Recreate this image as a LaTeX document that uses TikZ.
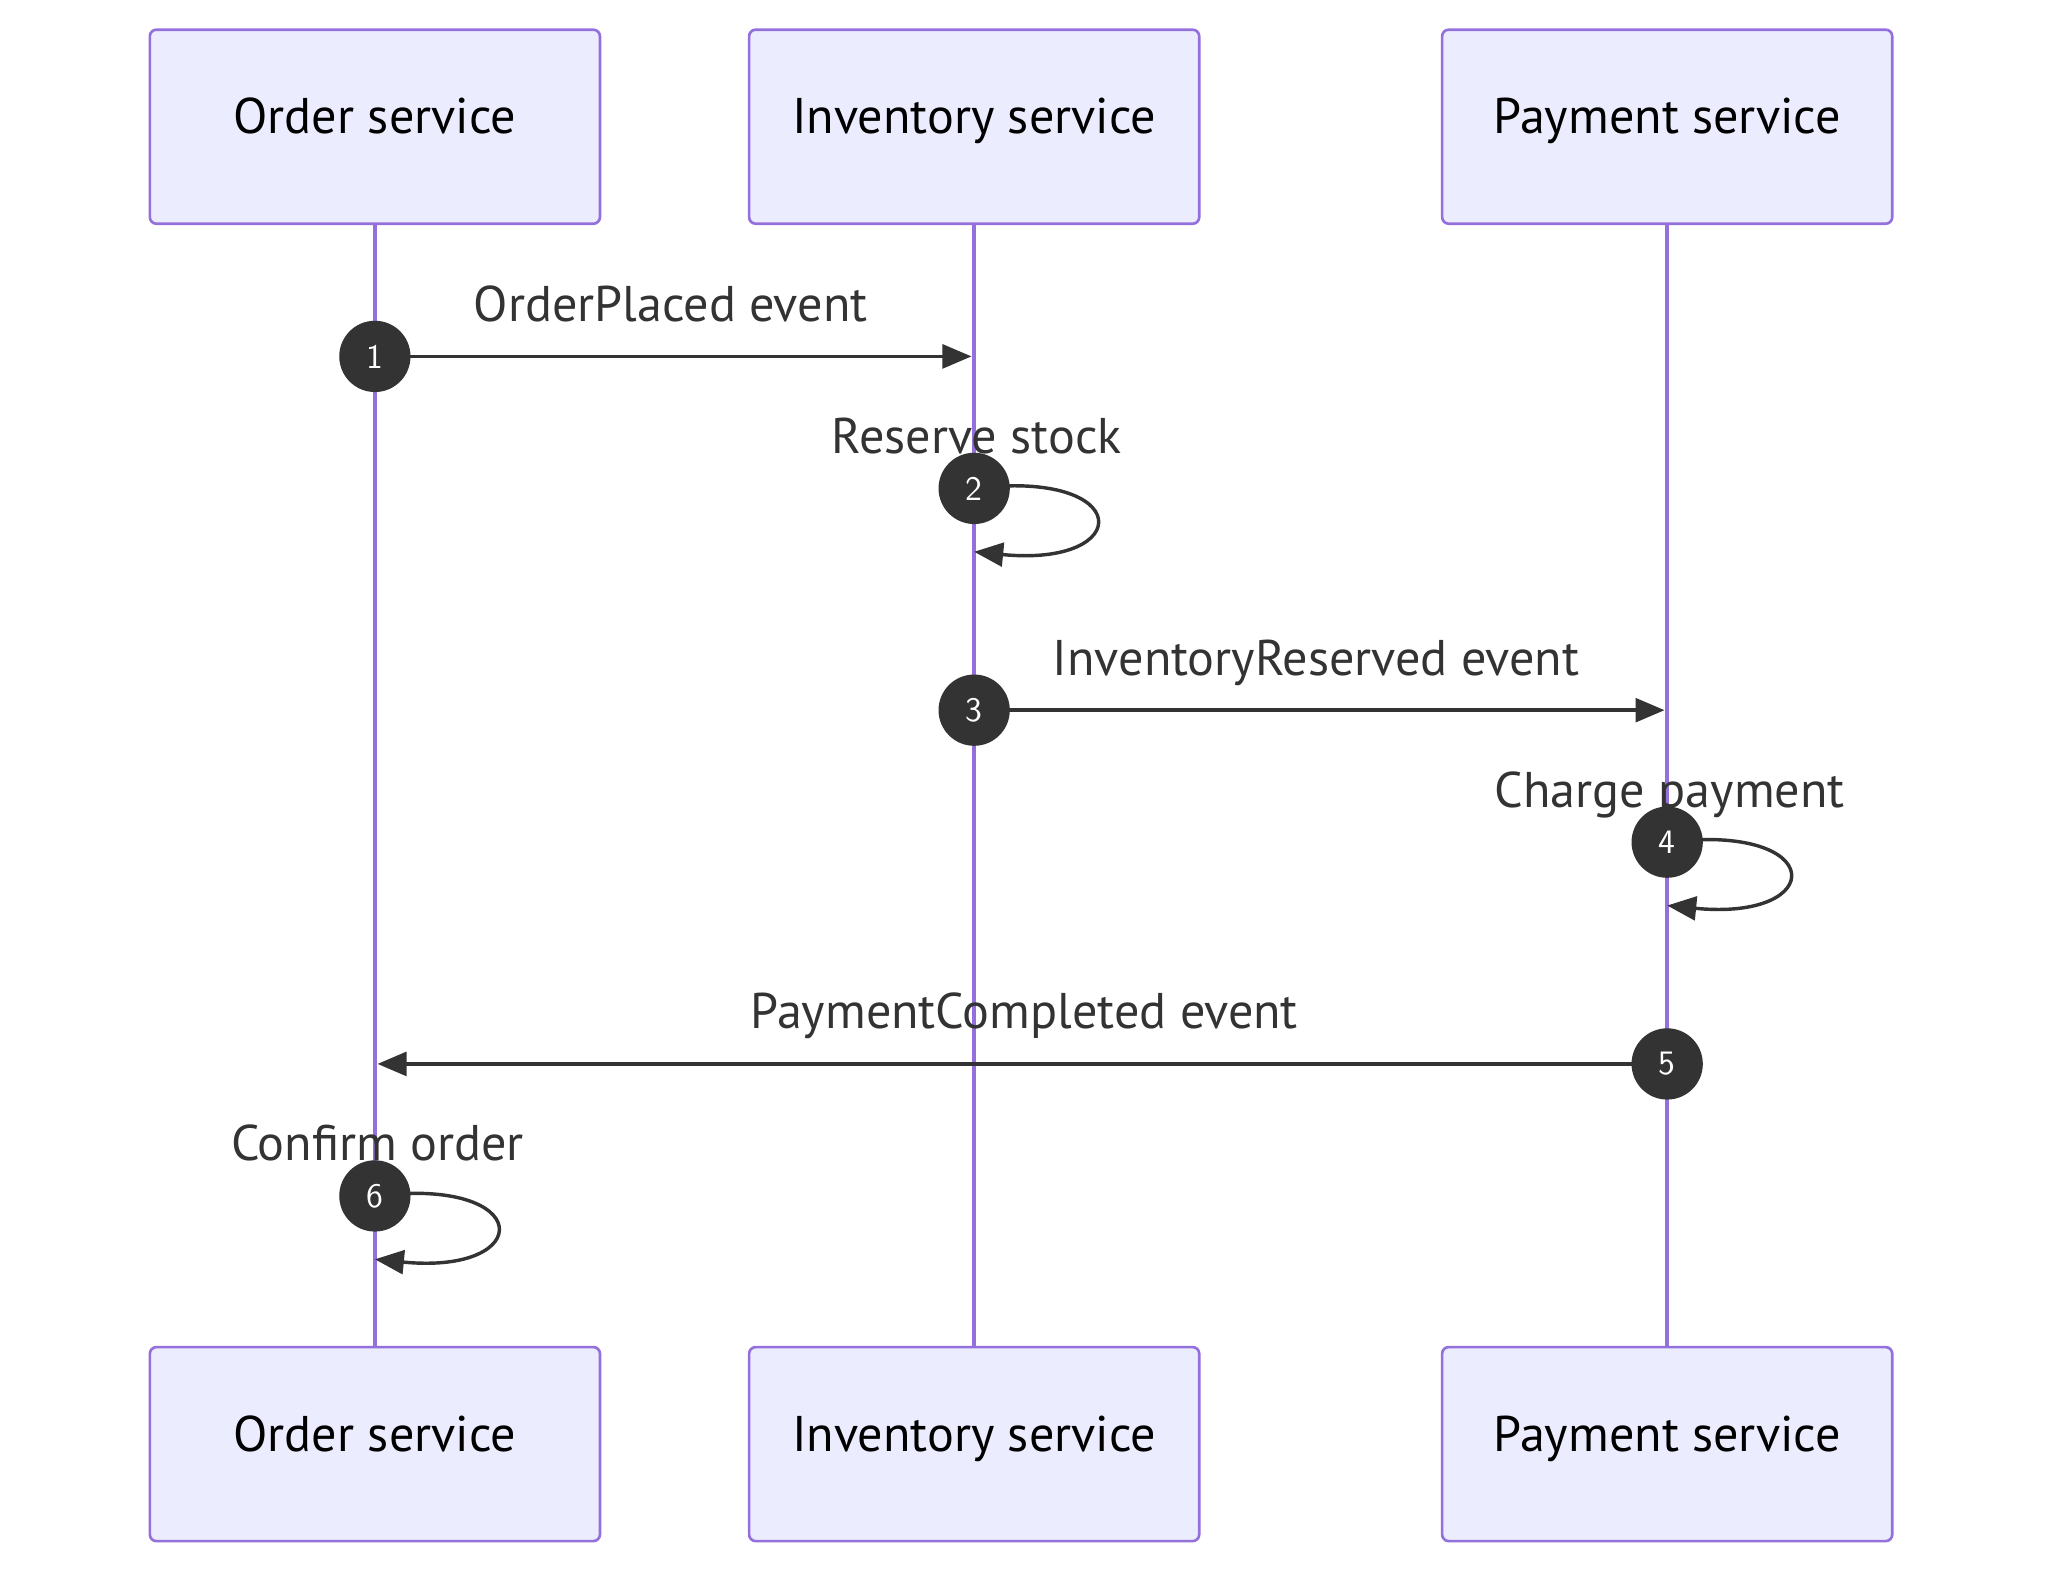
\documentclass[tikz,border=0pt]{standalone}
\usepackage{fontspec}
\setmainfont{PT Sans}
\usetikzlibrary{arrows.meta}
\definecolor{pfill}{HTML}{ECECFF}
\definecolor{pline}{HTML}{9370DB}
\definecolor{dk}{HTML}{333333}
\begin{document}
\begin{tikzpicture}[x=0.5pt,y=-0.5pt,
  actor/.style={draw=pline,fill=pfill,line width=1pt,rounded corners=2.5pt,minimum width=170.5pt,minimum height=73.5pt,font=\fontsize{19}{22}\selectfont,text=black,text height=1.45ex,text depth=0.35ex},
  life/.style={draw=pline,line width=1.6pt},
  msg/.style={draw=dk,line width=1.3pt,-{Triangle[length=11pt,width=9pt]}},
  num/.style={circle,fill=dk,text=white,inner sep=0pt,minimum size=27pt,font=\sffamily\fontsize{13}{14}\selectfont},
  lbl/.style={text=dk,font=\fontsize{19}{22}\selectfont,inner sep=0pt,text height=1.45ex,text depth=0.35ex}]
\useasboundingbox (0,0) rectangle (1550,1193);
\foreach \n/\x/\t in {a/284/Order service,b/738/Inventory service,c/1263/Payment service}{
  \draw[life] (\x,170) -- (\x,1020);
  \node[actor] (\n top) at (\x,96) {\t};
  \node[actor] (\n bot) at (\x,1094) {\t};
}
% 1
\coordinate (m1s) at (284,270); \coordinate (m1e) at (736,270);
\draw[msg] (m1s) -- (m1e);
\node[lbl] (l1) at (508,238) {OrderPlaced event};
\node[num] (n1) at (m1s) {1};
% 2
\coordinate (m2s) at (738,370); \coordinate (m2e) at (738,418);
\draw[msg] (m2s) .. controls (860,355) and (860,430) .. (m2e);
\node[lbl] (l2) at (740,338) {Reserve stock};
\node[num] (n2) at (m2s) {2};
% 3
\coordinate (m3s) at (738,538); \coordinate (m3e) at (1261,538);
\draw[msg] (m3s) -- (m3e);
\node[lbl] (l3) at (997,506) {InventoryReserved event};
\node[num] (n3) at (m3s) {3};
% 4
\coordinate (m4s) at (1263,638); \coordinate (m4e) at (1263,686);
\draw[msg] (m4s) .. controls (1385,623) and (1385,698) .. (m4e);
\node[lbl] (l4) at (1265,606) {Charge payment};
\node[num] (n4) at (m4s) {4};
% 5
\coordinate (m5s) at (1263,806); \coordinate (m5e) at (286,806);
\draw[msg] (m5s) -- (m5e);
\node[lbl] (l5) at (776,774) {PaymentCompleted event};
\node[num] (n5) at (m5s) {5};
% 6
\coordinate (m6s) at (284,906); \coordinate (m6e) at (284,954);
\draw[msg] (m6s) .. controls (406,891) and (406,966) .. (m6e);
\node[lbl] (l6) at (286,874) {Confirm order};
\node[num] (n6) at (m6s) {6};
\end{tikzpicture}
\end{document}
